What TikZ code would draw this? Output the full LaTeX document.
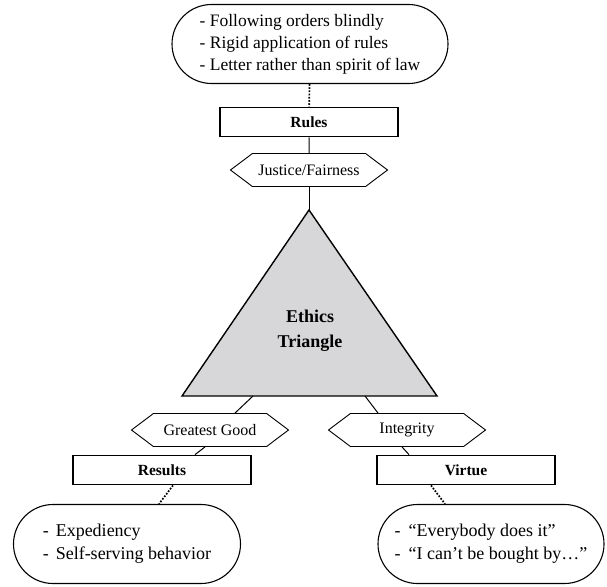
\documentclass[tikz,border=0pt]{standalone}
\usepackage{fontspec}
\setmainfont{Liberation Serif}
\usepackage{tikz}
\usetikzlibrary{shapes.misc,shapes.symbols}
\definecolor{TriGray}{RGB}{215,215,217}

\begin{document}
\begin{tikzpicture}[
    x=1pt, y=-1pt,
    note/.style={draw, line width=1.1pt, rounded rectangle, inner sep=0pt,
      minimum height=79pt, align=left, font=\fontsize{17.5}{22}\selectfont},
    corner/.style={draw, line width=1.8pt, minimum width=178pt, minimum height=29pt,
      inner sep=0pt, font=\fontsize{15.5}{16}\selectfont\bfseries},
    value/.style={draw, line width=0.9pt, signal, signal to=west and east,
      signal pointer angle=74, minimum width=157pt, minimum height=33pt,
      inner sep=0pt, font=\fontsize{16}{16}\selectfont},
    link/.style={line width=1pt},
    dots/.style={line width=1.7pt, dash pattern=on 1.7pt off 1.5pt}
  ]
    \useasboundingbox (0,0) rectangle (607,586);
    \node[note, minimum width=276pt] (rulesnote) at (310,44)
      {- Following orders blindly\\- Rigid application of rules\\- Letter rather than spirit of law};
    \node[corner] (rules) at (309,122) {Rules};
    \node[value] (justice) at (309,170) {Justice/Fairness};
    \coordinate (apex) at (309,210);
    \coordinate (baseleft) at (182,396);
    \coordinate (baseright) at (437,396);
    \filldraw[fill=TriGray, line width=1.4pt, line join=miter] (apex) -- (baseright) -- (baseleft) -- cycle;
    \node[align=center, font=\fontsize{18}{25}\selectfont\bfseries] (ethics) at (310,331) {Ethics\\Triangle};
    \coordinate (legleft) at (253,396);
    \coordinate (legright) at (365,396);
    \node[value] (good) at (210,430) {Greatest Good};
    \node[value] (integrity) at (407,430) {Integrity};
    \node[corner] (results) at (162,470) {Results};
    \node[corner] (virtue) at (466,470) {Virtue};
    \node[note, minimum width=227pt, font=\fontsize{18}{23}\selectfont] (resultsnote) at (127,544)
      {-\hspace{7pt}Expediency\\-\hspace{7pt}Self-serving behavior};
    \node[note, minimum width=226pt, font=\fontsize{18}{23}\selectfont] (virtuenote) at (491,544)
      {-\hspace{8pt}``Everybody does it''\\-\hspace{8pt}``I can't be bought by\ldots''};
    \draw[dots] (rulesnote) -- (rules);
    \draw[link] (rules) -- (justice);
    \draw[link] (justice) -- (apex);
    \draw[link] (legleft) -- ([xshift=25pt]good.north);
    \draw[link] (legright) -- ([xshift=-29pt]integrity.north);
    \draw[link] ([xshift=-5pt]good.south) -- ([xshift=33pt]results.north);
    \draw[link] ([xshift=-5pt]integrity.south) -- ([xshift=-57pt]virtue.north);
    \draw[dots] ([xshift=11pt]results.south) -- ([xshift=32pt]resultsnote.north);
    \draw[dots] ([xshift=-35pt]virtue.south) -- ([xshift=-46pt]virtuenote.north);
  \end{tikzpicture}
\end{document}
